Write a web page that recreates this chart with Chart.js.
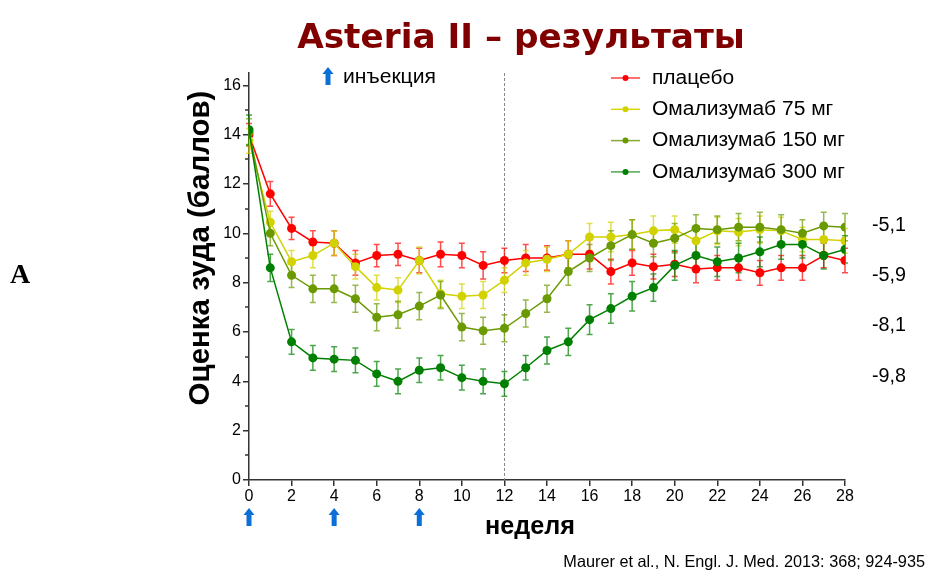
<!DOCTYPE html>
<html><head><meta charset="utf-8">
<script src="https://cdn.jsdelivr.net/npm/chart.js@4.4.1/dist/chart.umd.min.js"></script>
<style>html,body{margin:0;padding:0;background:#fff;}#wrap{position:relative;width:926px;height:574px;}</style>
</head><body><div id="wrap"><canvas id="c" width="926" height="574"></canvas></div>
<script>
const weeks = [0,1,2,3,4,5,6,7,8,9,10,11,12,13,14,15,16,17,18,19,20,21,22,23,24,25,26,27,28];
const xTickLabels = [0,2,4,6,8,10,12,14,16,18,20,22,24,26,28];
const yTickLabels = [0,2,4,6,8,10,12,14,16];
const seriesNames = ["плацебо","Омализумаб 75 мг","Омализумаб 150 мг","Омализумаб 300 мг"];
const placebo = [14.0,11.6,10.2,9.65,9.6,8.8,9.1,9.15,8.9,9.15,9.1,8.7,8.9,9.0,9.0,9.15,9.15,8.45,8.8,8.65,8.75,8.55,8.6,8.6,8.4,8.6,8.6,9.1,8.9];
const oma75 = [13.75,10.45,8.85,9.1,9.6,8.65,7.8,7.7,8.9,7.55,7.45,7.5,8.1,8.8,8.95,9.15,9.85,9.85,9.95,10.1,10.15,9.7,10.1,10.05,10.15,10.1,9.75,9.75,9.7];
const oma150 = [14.1,10.0,8.3,7.75,7.75,7.35,6.6,6.7,7.05,7.5,6.2,6.05,6.15,6.75,7.35,8.45,9.0,9.5,9.95,9.6,9.8,10.2,10.15,10.25,10.25,10.15,10.0,10.3,10.25];
const oma300 = [14.2,8.6,5.6,4.95,4.9,4.85,4.3,4.0,4.45,4.55,4.15,4.0,3.9,4.55,5.25,5.6,6.5,6.95,7.45,7.8,8.7,9.1,8.85,9.0,9.25,9.55,9.55,9.1,9.35];
const errPlacebo = [0.45,0.5,0.45,0.45,0.5,0.5,0.45,0.45,0.5,0.5,0.5,0.55,0.5,0.55,0.5,0.55,0.6,0.5,0.5,0.5,0.5,0.55,0.5,0.5,0.5,0.5,0.5,0.5,0.5];
const err75 = [0.5,0.45,0.45,0.5,0.5,0.5,0.5,0.5,0.55,0.55,0.5,0.55,0.5,0.5,0.5,0.55,0.55,0.6,0.6,0.6,0.55,0.55,0.55,0.55,0.55,0.55,0.5,0.5,0.5];
const err150 = [0.55,0.5,0.5,0.55,0.55,0.55,0.55,0.55,0.55,0.55,0.55,0.55,0.55,0.55,0.55,0.55,0.55,0.6,0.6,0.55,0.6,0.55,0.55,0.55,0.6,0.6,0.55,0.55,0.55];
const err300 = [0.6,0.55,0.5,0.5,0.5,0.5,0.5,0.5,0.5,0.5,0.5,0.5,0.5,0.5,0.55,0.55,0.6,0.6,0.6,0.55,0.6,0.6,0.6,0.6,0.6,0.6,0.55,0.55,0.55];
const injectionWeeks = [0,4,8];
const changeLabels = ["-5,1","-5,9","-8,1","-9,8"];
const changeLabelY = [10.3,8.3,6.25,4.2];
const colors = ["#ff0000","#d2d200","#6a9a00","#008000"];
const legendLineColors = ["#ff4040","#d8d800","#86ad33","#4fa84f"];

const allValues = [placebo, oma75, oma150, oma300];
const allErrors = [errPlacebo, err75, err150, err300];
const SANS = "'Liberation Sans', Arial, sans-serif";

function arrow(ctx, cx, top, h){
  ctx.save();
  ctx.fillStyle = "#0a6fd6";
  ctx.beginPath();
  ctx.moveTo(cx, top);
  ctx.lineTo(cx+5.5, top+7);
  ctx.lineTo(cx+2.5, top+7);
  ctx.lineTo(cx+2.5, top+h);
  ctx.lineTo(cx-2.5, top+h);
  ctx.lineTo(cx-2.5, top+7);
  ctx.lineTo(cx-5.5, top+7);
  ctx.closePath();
  ctx.fill();
  ctx.restore();
}
function fitFont(ctx, text, weight, family, width){
  ctx.font = `${weight} 40px ${family}`;
  const w = ctx.measureText(text).width;
  const fs = 40*width/w;
  ctx.font = `${weight} ${fs}px ${family}`;
  return fs;
}

const extras = {
  id:'extras',
  beforeDatasetsDraw(chart){
    const {ctx, scales:{x,y}, chartArea} = chart;
    ctx.save();
    ctx.strokeStyle = "#888";
    ctx.lineWidth = 1;
    ctx.setLineDash([3,2]);
    const dx = Math.round(x.getPixelForValue(12))+0.5;
    ctx.beginPath();
    ctx.moveTo(dx, chartArea.top);
    ctx.lineTo(dx, chartArea.bottom);
    ctx.stroke();
    ctx.restore();
    chart.data.datasets.forEach((ds)=>{
      ctx.save();
      ctx.strokeStyle = ds.borderColor;
      ctx.globalAlpha = 0.7;
      ctx.lineWidth = 1.5;
      ds.data.forEach((p,j)=>{
        const px = x.getPixelForValue(p.x);
        const y1 = y.getPixelForValue(p.y+ds.err[j]);
        const y2 = y.getPixelForValue(p.y-ds.err[j]);
        ctx.beginPath();
        ctx.moveTo(px,y1); ctx.lineTo(px,y2);
        ctx.moveTo(px-3,y1); ctx.lineTo(px+3,y1);
        ctx.moveTo(px-3,y2); ctx.lineTo(px+3,y2);
        ctx.stroke();
      });
      ctx.restore();
    });
  },
  afterDraw(chart){
    const {ctx, scales:{x,y}, chartArea} = chart;
    ctx.save();
    ctx.strokeStyle = "#333"; ctx.lineWidth = 1.5;
    for(let v=1; v<16; v+=2){
      const py = Math.round(y.getPixelForValue(v));
      ctx.beginPath(); ctx.moveTo(chartArea.left-4, py); ctx.lineTo(chartArea.left, py); ctx.stroke();
    }
    // title
    ctx.fillStyle = "#800000";
    fitFont(ctx, "Asteria II – результаты", "bold", "'DejaVu Sans', sans-serif", 448);
    ctx.textAlign = "center"; ctx.textBaseline = "alphabetic";
    ctx.fillText("Asteria II – результаты", 521, 48);
    // A
    ctx.fillStyle = "#000";
    ctx.font = "bold 28px 'Liberation Serif', serif";
    ctx.textAlign = "left";
    ctx.fillText("A", 10, 283);
    // y title
    ctx.save();
    ctx.translate(201, 248);
    ctx.rotate(-Math.PI/2);
    fitFont(ctx, "Оценка зуда (баллов)", "bold", SANS, 315);
    ctx.textAlign = "center"; ctx.textBaseline = "middle";
    ctx.fillText("Оценка зуда (баллов)", 0, 0);
    ctx.restore();
    // x title
    fitFont(ctx, "неделя", "bold", SANS, 90);
    ctx.textAlign = "center"; ctx.textBaseline = "middle";
    ctx.fillText("неделя", 530, 527);
    // arrows
    injectionWeeks.forEach(w=>arrow(ctx, x.getPixelForValue(w), 508, 18));
    arrow(ctx, 328, 67, 18);
    fitFont(ctx, "инъекция", "normal", SANS, 93);
    ctx.textAlign = "left"; ctx.textBaseline = "middle";
    ctx.fillStyle = "#000";
    ctx.fillText("инъекция", 343, 77);
    // legend
    const lf = fitFont(ctx, seriesNames[3], "normal", SANS, 193);
    chart.data.datasets.forEach((ds,i)=>{
      const ly = 78 + i*31.3;
      ctx.strokeStyle = legendLineColors[i]; ctx.lineWidth = 1.5;
      ctx.beginPath(); ctx.moveTo(611, ly); ctx.lineTo(640, ly); ctx.stroke();
      ctx.fillStyle = ds.borderColor;
      ctx.beginPath(); ctx.arc(625.5, ly, 3, 0, Math.PI*2); ctx.fill();
      ctx.fillStyle = "#000";
      ctx.font = `${lf}px ${SANS}`;
      ctx.fillText(ds.label, 652, ly);
    });
    fitFont(ctx, changeLabels[0], "normal", SANS, 34);
    changeLabels.forEach((t,i)=>{
      ctx.fillText(t, 872, y.getPixelForValue(changeLabelY[i]));
    });
    fitFont(ctx, "Maurer et al., N. Engl. J. Med. 2013: 368; 924-935", "normal", SANS, 362);
    ctx.textAlign = "right";
    ctx.fillText("Maurer et al., N. Engl. J. Med. 2013: 368; 924-935", 925, 563);
    ctx.restore();
  }
};

function build(){
  const datasets = allValues.map((vals,i)=>({
    label: seriesNames[i],
    data: weeks.map((w,j)=>({x:w,y:vals[j]})),
    err: allErrors[i],
    borderColor: colors[i],
    backgroundColor: colors[i],
    borderWidth: 1.5,
    pointRadius: 4.5,
    pointHoverRadius: 4.5,
    pointBorderWidth: 0,
    tension: 0,
    order: 3-i
  }));
  new Chart(document.getElementById('c'), {
    type:'line',
    data:{datasets},
    options:{
      responsive:false,
      animation:false,
      events:[],
      layout:{padding:{left:199,right:81,top:73,bottom:69}},
      plugins:{legend:{display:false},title:{display:false},tooltip:{enabled:false}},
      scales:{
        x:{
          type:'linear', min:0, max:28,
          afterFit(s){ s.height = 25; },
          afterBuildTicks(s){ s.ticks = xTickLabels.map(v=>({value:v})); },
          grid:{drawOnChartArea:false, drawTicks:true, tickLength:6, color:"#333", lineWidth:1.5},
          border:{color:"#333", width:1.5},
          ticks:{font:{family:SANS,size:16}, color:"#000", padding:1, maxRotation:0, autoSkip:false}
        },
        y:{
          type:'linear', min:0, max:16.5,
          afterFit(s){ s.width = 50; },
          afterBuildTicks(s){ s.ticks = yTickLabels.map(v=>({value:v})); },
          grid:{drawOnChartArea:false, drawTicks:true, tickLength:6, color:"#333", lineWidth:1.5},
          border:{color:"#333", width:1.5},
          ticks:{font:{family:SANS,size:16}, color:"#000", padding:2}
        }
      }
    },
    plugins:[extras]
  });
}
Promise.all([
  document.fonts.load("16px 'Liberation Sans'"),
  document.fonts.load("bold 16px 'Liberation Sans'"),
  document.fonts.load("bold 16px 'DejaVu Sans'"),
  document.fonts.load("bold 16px 'Liberation Serif'")
]).then(build, build);
</script></body></html>
